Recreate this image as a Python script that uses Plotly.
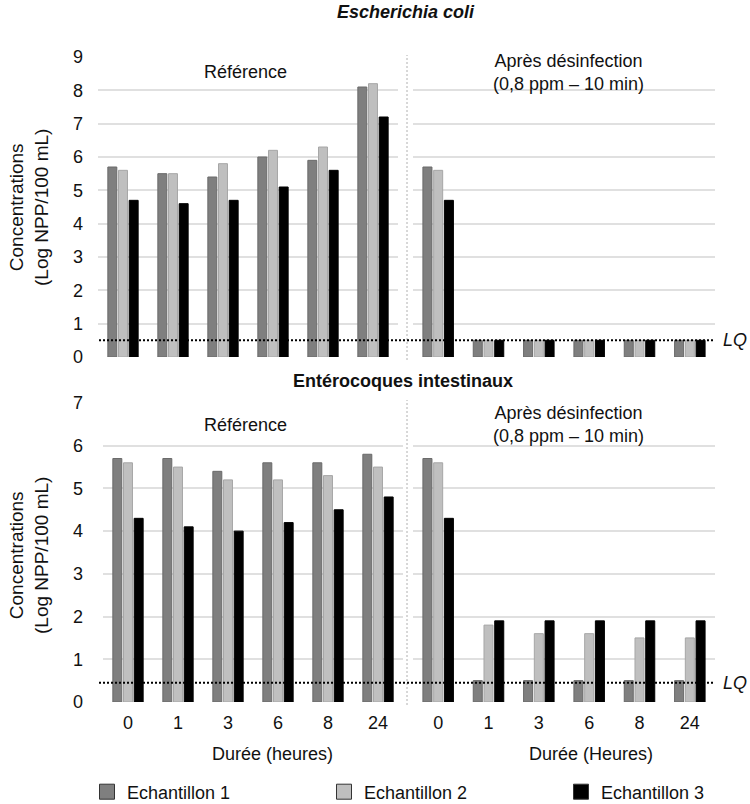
import plotly.graph_objects as go

# Sampling times (hours)
hours = ["0", "1", "3", "6", "8", "24"]
series_names = ["Echantillon 1", "Echantillon 2", "Echantillon 3"]
series_colors = ["#7f7f7f", "#bfbfbf", "#000000"]
series_edges = ["#6a6a6a", "#a6a6a6", "#000000"]

# Escherichia coli, log NPP/100 mL
ecoli_ref_1 = [5.7, 5.5, 5.4, 6.0, 5.9, 8.1]
ecoli_ref_2 = [5.6, 5.5, 5.8, 6.2, 6.3, 8.2]
ecoli_ref_3 = [4.7, 4.6, 4.7, 5.1, 5.6, 7.2]
ecoli_dis_1 = [5.7, 0.5, 0.5, 0.5, 0.5, 0.5]
ecoli_dis_2 = [5.6, 0.5, 0.5, 0.5, 0.5, 0.5]
ecoli_dis_3 = [4.7, 0.5, 0.5, 0.5, 0.5, 0.5]

# Entérocoques intestinaux, log NPP/100 mL
ent_ref_1 = [5.7, 5.7, 5.4, 5.6, 5.6, 5.8]
ent_ref_2 = [5.6, 5.5, 5.2, 5.2, 5.3, 5.5]
ent_ref_3 = [4.3, 4.1, 4.0, 4.2, 4.5, 4.8]
ent_dis_1 = [5.7, 0.5, 0.5, 0.5, 0.5, 0.5]
ent_dis_2 = [5.6, 1.8, 1.6, 1.6, 1.5, 1.5]
ent_dis_3 = [4.3, 1.9, 1.9, 1.9, 1.9, 1.9]

# Limite de quantification
lq_ecoli = 0.5
lq_ent = 0.45

W, H = 750, 804
FONT = "Liberation Sans, Arial, sans-serif"
TXT = "#111111"


def px(x):
    return x / W


def py(y):
    return 1 - y / H


fig = go.Figure()

panels = [
    ("x", "y", [ecoli_ref_1, ecoli_ref_2, ecoli_ref_3]),
    ("x2", "y2", [ecoli_dis_1, ecoli_dis_2, ecoli_dis_3]),
    ("x3", "y3", [ent_ref_1, ent_ref_2, ent_ref_3]),
    ("x4", "y4", [ent_dis_1, ent_dis_2, ent_dis_3]),
]
for xa, ya, values in panels:
    for name, color, edge, vals in zip(series_names, series_colors, series_edges, values):
        fig.add_trace(go.Bar(
            x=hours, y=vals, name=name, xaxis=xa, yaxis=ya,
            marker=dict(color=color, line=dict(color=edge, width=1)),
            showlegend=False, legendgroup=name,
        ))

# Legend entries: outlined square swatches
legend_widths = [192, 192, 110]
for name, color, lw in zip(series_names, series_colors, legend_widths):
    fig.add_trace(go.Scatter(
        x=[None], y=[None], mode="markers", name=name, legendgroup=name,
        marker=dict(symbol="square", size=15, color=color,
                    line=dict(color="#333333", width=1)),
        legendwidth=lw, hoverinfo="skip",
    ))

grid = "#e0e0e0"
common_x = dict(type="category", showgrid=False, zeroline=False, showline=False,
                ticks="", tickfont=dict(size=18, color=TXT, family=FONT))
common_y = dict(showgrid=True, gridcolor=grid, gridwidth=1.5, zeroline=False,
                showline=False, ticks="", dtick=1,
                tickfont=dict(size=18, color=TXT, family=FONT))

top_dom = [py(357), py(57)]
bot_dom = [py(702), py(403)]
left_top = [px(98), px(398)]
left_bot = [px(103), px(403)]
right_dom = [px(413), px(715)]

fig.update_layout(
    width=W, height=H,
    margin=dict(l=0, r=0, t=0, b=0, autoexpand=False),
    paper_bgcolor="white", plot_bgcolor="white",
    font=dict(family=FONT, size=18, color=TXT),
    barmode="group", bargap=0.36, bargroupgap=0.16,
    xaxis=dict(common_x, domain=left_top, anchor="y", showticklabels=False),
    yaxis=dict(common_y, domain=top_dom, anchor="x", range=[0, 9],
               ticklabelstandoff=14),
    xaxis2=dict(common_x, domain=right_dom, anchor="y2", showticklabels=False),
    yaxis2=dict(common_y, domain=top_dom, anchor="x2", range=[0, 9],
                showticklabels=False),
    xaxis3=dict(common_x, domain=left_bot, anchor="y3", ticklabelstandoff=8),
    yaxis3=dict(common_y, domain=bot_dom, anchor="x3", range=[0, 7],
                ticklabelstandoff=19),
    xaxis4=dict(common_x, domain=right_dom, anchor="y4", ticklabelstandoff=8),
    yaxis4=dict(common_y, domain=bot_dom, anchor="x4", range=[0, 7],
                showticklabels=False),
    legend=dict(orientation="h", x=px(87), xanchor="left", y=py(792),
                yanchor="middle", itemsizing="trace", traceorder="normal",
                font=dict(size=18, color=TXT, family=FONT),
                bgcolor="rgba(0,0,0,0)"),
)

shapes = []
# Vertical separators between "Référence" and "Après désinfection"
for y0, y1 in [(55, 360), (400, 705)]:
    shapes.append(dict(type="line", xref="paper", yref="paper",
                       x0=px(407), x1=px(407), y0=py(y1), y1=py(y0),
                       line=dict(color="#b0b0b0", width=1, dash="2px,2px")))
# LQ lines
shapes.append(dict(type="line", xref="paper", yref="y", x0=px(99), x1=px(715),
                   y0=lq_ecoli, y1=lq_ecoli,
                   line=dict(color="#000000", width=2, dash="2px,2px")))
shapes.append(dict(type="line", xref="paper", yref="y3", x0=px(99), x1=px(715),
                   y0=lq_ent, y1=lq_ent,
                   line=dict(color="#000000", width=2, dash="2px,2px")))
fig.update_layout(shapes=shapes)

ann = []


def text(x, y, s, size=18, **kw):
    d = dict(xref="paper", yref="paper", x=px(x), y=py(y), text=s,
             showarrow=False, xanchor="center", yanchor="middle",
             font=dict(size=size, color=TXT, family=FONT))
    d.update(kw)
    ann.append(d)


text(406, 12, "<b><i>Escherichia coli</i></b>")
text(403, 381, "<b>Entérocoques intestinaux</b>")
text(245, 72, "Référence")
text(245, 425, "Référence")
text(568, 72, "Après désinfection<br>(0,8 ppm – 10 min)")
text(568, 424, "Après désinfection<br>(0,8 ppm – 10 min)")
text(29, 208, "Concentrations<br>(Log NPP/100 mL)", size=19, textangle=-90)
text(29, 556, "Concentrations<br>(Log NPP/100 mL)", size=19, textangle=-90)
text(272, 754, "Durée (heures)")
text(591, 754, "Durée (Heures)")

ann.append(dict(xref="paper", yref="y", x=px(721), y=lq_ecoli, text="<i>LQ</i>",
                showarrow=False, xanchor="left", yanchor="middle",
                font=dict(size=18, color=TXT, family=FONT)))
ann.append(dict(xref="paper", yref="y3", x=px(721), y=lq_ent, text="<i>LQ</i>",
                showarrow=False, xanchor="left", yanchor="middle",
                font=dict(size=18, color=TXT, family=FONT)))
fig.update_layout(annotations=ann)

fig.write_html("out.html")
